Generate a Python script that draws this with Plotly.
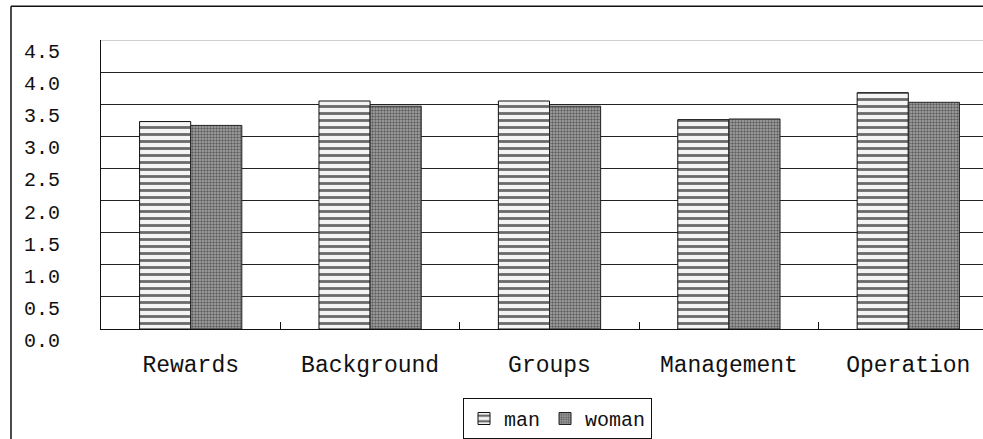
import plotly.graph_objects as go

# Survey dimensions and mean scores by gender
categories = ["Rewards", "Background", "Groups", "Management", "Operation"]
man_scores = [3.23, 3.55, 3.55, 3.26, 3.68]
woman_scores = [3.17, 3.47, 3.47, 3.27, 3.53]
y_ticks = [0.0, 0.5, 1.0, 1.5, 2.0, 2.5, 3.0, 3.5, 4.0, 4.5]
y_tick_text = ["0.0", "0.5", "1.0", "1.5", "2.0", "2.5", "3.0", "3.5", "4.0", "4.5"]

FONT = "Liberation Mono"
W, H = 983, 439
ML, MT, MB = 101, 40, 107
plot_w = W - ML
plot_h = H - MT - MB
cat_px = 179.4  # pixel width of one category slot

fig = go.Figure()
fig.add_trace(go.Bar(
    name="man", x=categories, y=man_scores,
    marker=dict(
        color="white",
        line=dict(color="#111", width=1),
        pattern=dict(shape="-", fgcolor="#6a6a6a", bgcolor="#f4f4f4",
                     size=7, solidity=0.4, fillmode="replace"),
    ),
))
fig.add_trace(go.Bar(
    name="woman", x=categories, y=woman_scores,
    marker=dict(
        color="#8a8a8a",
        line=dict(color="#222", width=1),
        pattern=dict(shape=".", fgcolor="#606060", bgcolor="#a8a8a8",
                     size=3, solidity=0.5, fillmode="replace"),
    ),
))

x_hi = -0.5 + plot_w / cat_px

def px_x(p):
    return (p - ML) / plot_w

def px_y(p):
    return (MT + plot_h - p) / plot_h

fig.update_layout(
    width=W, height=H,
    margin=dict(l=ML, r=0, t=MT, b=MB),
    paper_bgcolor="white", plot_bgcolor="white",
    barmode="group", bargap=0.43, bargroupgap=0.0,
    font=dict(family=FONT, color="#111"),
    xaxis=dict(
        range=[-0.5, x_hi], showgrid=False, zeroline=False,
        showline=True, linecolor="#111", linewidth=1,
        ticks="inside", tickson="boundaries", ticklen=7, tickcolor="#111",
        tickfont=dict(family=FONT, size=23, color="#111"),
        ticklabelstandoff=14,
    ),
    yaxis=dict(
        range=[0, 4.5], tickvals=y_ticks, ticktext=y_tick_text,
        showgrid=True, gridcolor="#222", gridwidth=1,
        zeroline=False, showline=True, linecolor="#111", linewidth=1,
        ticks="", tickfont=dict(family=FONT, size=20, color="#111"),
        ticklabelstandoff=36, ticklabelshift=11,
    ),
    legend=dict(
        orientation="h", x=px_x(463), y=px_y(402),
        xanchor="left", yanchor="top",
        bordercolor="#111", borderwidth=1, bgcolor="white",
        font=dict(family=FONT, size=20, color="#111"),
        itemwidth=30, tracegroupgap=0,
    ),
    shapes=[
        # light top rule of the plot area
        dict(type="line", xref="paper", yref="y", x0=0, x1=1, y0=4.5, y1=4.5,
             line=dict(color="#cfcfcf", width=2), layer="above"),
        # outer chart frame (left and top edges)
        dict(type="line", xref="paper", yref="paper",
             x0=px_x(11), x1=px_x(11), y0=px_y(6), y1=px_y(450),
             line=dict(color="#111", width=1.5)),
        dict(type="line", xref="paper", yref="paper",
             x0=px_x(11), x1=px_x(990), y0=px_y(6), y1=px_y(6),
             line=dict(color="#111", width=1.5)),
    ],
)

fig.write_html("out.html")
